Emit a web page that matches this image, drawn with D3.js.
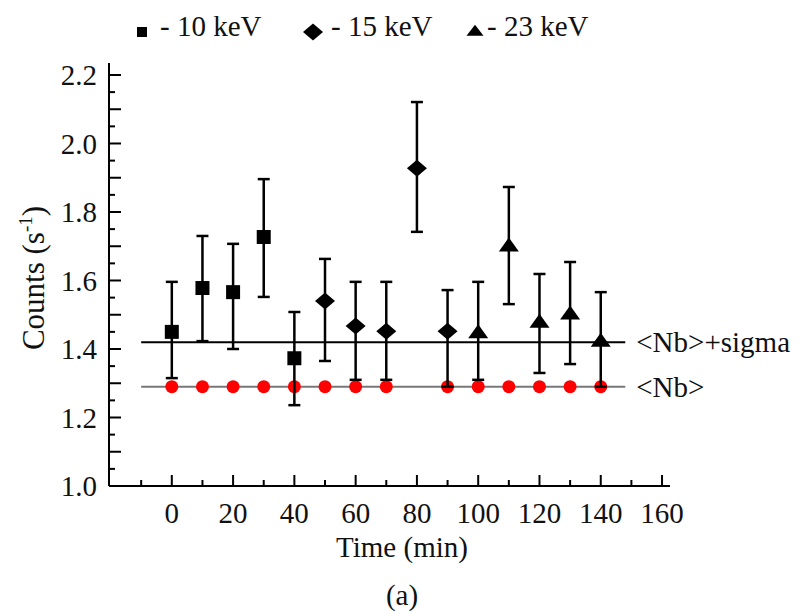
<!DOCTYPE html>
<html><head><meta charset="utf-8">
<script src="https://cdn.jsdelivr.net/npm/d3@7"></script>
<style>body{margin:0;background:#fff}svg{display:block}text{font-family:"Liberation Serif","Times New Roman",serif;fill:#111}</style>
</head><body>
<svg id="c" width="804" height="614"></svg>
<script>
// Data
const time10 = [0, 10, 20, 30, 40];
const val10  = [1.450, 1.578, 1.566, 1.727, 1.373];
const hi10   = [1.596, 1.730, 1.707, 1.896, 1.508];
const lo10   = [1.315, 1.423, 1.400, 1.552, 1.236];

const time15 = [50, 60, 70, 80, 90];
const val15  = [1.540, 1.467, 1.452, 1.928, 1.452];
const hi15   = [1.663, 1.596, 1.596, 2.121, 1.572];
const lo15   = [1.365, 1.310, 1.310, 1.742, 1.290];

const time23 = [100, 110, 120, 130, 140];
const val23  = [1.445, 1.698, 1.476, 1.500, 1.420];
const hi23   = [1.596, 1.873, 1.619, 1.654, 1.566];
const lo23   = [1.310, 1.531, 1.330, 1.356, 1.290];

const nbTimes = [0, 10, 20, 30, 40, 50, 60, 70, 90, 100, 110, 120, 130, 140];
const nbMean = 1.29;
const nbSigma = 1.42;
const lineRange = [-10, 148];

const xTicks = [0, 20, 40, 60, 80, 100, 120, 140, 160];
const yTicks = [1.0, 1.2, 1.4, 1.6, 1.8, 2.0, 2.2];
const legendLabels = ["- 10 keV", "- 15 keV", "- 23 keV"];

const svg = d3.select("#c");
const FS = 29;
const x = d3.scaleLinear().domain([-20.5, 162.6]).range([109, 670]);
const y = d3.scaleLinear().domain([1.0, 2.235]).range([486, 63]);

// axes
const xAxis = svg.append("g").attr("transform", `translate(0,${y(1.0)})`);
xAxis.append("line").attr("x1", x.range()[0]).attr("x2", x.range()[1]).attr("stroke", "#000").attr("stroke-width", 2);
const xMinor = d3.range(-10, 161, 10);
xAxis.selectAll(".xt").data(xMinor).join("line")
  .attr("x1", d => x(d)).attr("x2", d => x(d))
  .attr("y1", 0).attr("y2", d => d % 20 === 0 ? -11 : -6)
  .attr("stroke", "#000").attr("stroke-width", 2);
xAxis.selectAll(".xl").data(xTicks).join("text")
  .attr("x", d => x(d)).attr("y", 37).attr("text-anchor", "middle")
  .attr("font-size", FS).text(d => d);

const yAxis = svg.append("g").attr("transform", `translate(${x.range()[0]},0)`);
yAxis.append("line").attr("y1", y.range()[0]).attr("y2", y.range()[1]).attr("stroke", "#000").attr("stroke-width", 2);
const yMinor = d3.range(0, 25).map(i => +(1.0 + i * 0.05).toFixed(2));
yAxis.selectAll(".yt").data(yMinor).join("line")
  .attr("y1", d => y(d)).attr("y2", d => y(d))
  .attr("x1", 0).attr("x2", (d, i) => i % 2 === 0 ? 12 : 6)
  .attr("stroke", "#000").attr("stroke-width", 2);
yAxis.selectAll(".yl").data(yTicks).join("text")
  .attr("x", -12).attr("y", d => y(d)).attr("dy", "0.35em").attr("text-anchor", "end")
  .attr("font-size", FS).text(d => d.toFixed(1));

// axis titles
svg.append("text").attr("x", 402).attr("y", 557).attr("text-anchor", "middle").attr("font-size", FS).text("Time (min)");
svg.append("text").attr("x", 402).attr("y", 605).attr("text-anchor", "middle").attr("font-size", FS).text("(a)");
const yt = svg.append("text").attr("transform", "translate(44,278) rotate(-90)").attr("text-anchor", "middle").attr("font-size", 31);
yt.append("tspan").text("Counts (s");
yt.append("tspan").attr("font-size", 19).attr("dy", -12).text("-1");
yt.append("tspan").attr("dy", 12).text(")");

// reference lines
svg.append("line").attr("x1", x(lineRange[0])).attr("x2", x(lineRange[1]))
  .attr("y1", y(nbSigma)).attr("y2", y(nbSigma)).attr("stroke", "#000").attr("stroke-width", 2);
svg.append("line").attr("x1", x(lineRange[0])).attr("x2", x(lineRange[1]))
  .attr("y1", y(nbMean)).attr("y2", y(nbMean)).attr("stroke", "#777").attr("stroke-width", 2);
svg.append("text").attr("x", x(lineRange[1]) + 11).attr("y", y(nbSigma)).attr("dy", "0.35em").attr("font-size", FS).text("<Nb>+sigma");
svg.append("text").attr("x", x(lineRange[1]) + 11).attr("y", y(nbMean)).attr("dy", "0.35em").attr("font-size", FS).text("<Nb>");

// red dots
svg.selectAll(".nb").data(nbTimes).join("circle")
  .attr("cx", d => x(d)).attr("cy", y(nbMean)).attr("r", 6.5).attr("fill", "#f00");

const symSquare = (s) => `M${-s/2},${-s/2}h${s}v${s}h${-s}Z`;
const symDiamond = (w, h) => `M0,${-h/2}L${w/2},0L0,${h/2}L${-w/2},0Z`;
const symTri = (w, h) => `M0,${-h*2/3}L${w/2},${h/3}L${-w/2},${h/3}Z`;

const series = [
  {t: time10, v: val10, hi: hi10, lo: lo10, path: symSquare(14), leg: symSquare(10)},
  {t: time15, v: val15, hi: hi15, lo: lo15, path: symDiamond(20, 17), leg: symDiamond(20, 17)},
  {t: time23, v: val23, hi: hi23, lo: lo23, path: symTri(20, 14), leg: symTri(17, 11)}
];

series.forEach(s => {
  const data = s.t.map((t, i) => ({t, v: s.v[i], hi: s.hi[i], lo: s.lo[i]}));
  const g = svg.append("g");
  g.selectAll(".eb").data(data).join("line")
    .attr("x1", d => x(d.t)).attr("x2", d => x(d.t)).attr("y1", d => y(d.hi)).attr("y2", d => y(d.lo))
    .attr("stroke", "#000").attr("stroke-width", 2.5);
  g.selectAll(".cap").data(data.flatMap(d => [d.hi, d.lo].map(v => ({t: d.t, v})))).join("line")
    .attr("x1", d => x(d.t) - 6).attr("x2", d => x(d.t) + 6).attr("y1", d => y(d.v)).attr("y2", d => y(d.v))
    .attr("stroke", "#000").attr("stroke-width", 2.5);
  g.selectAll(".m").data(data).join("path")
    .attr("transform", d => `translate(${x(d.t)},${y(d.v)})`).attr("d", s.path).attr("fill", "#000");
});

// legend
const legX = [142, 313, 475];
const legTextX = [160, 331, 487];
series.forEach((s, i) => {
  svg.append("path").attr("transform", `translate(${legX[i]},32)`).attr("d", s.leg).attr("fill", "#000");
  svg.append("text").attr("x", legTextX[i]).attr("y", 36).attr("font-size", FS).text(legendLabels[i]);
});
</script>
</body></html>
